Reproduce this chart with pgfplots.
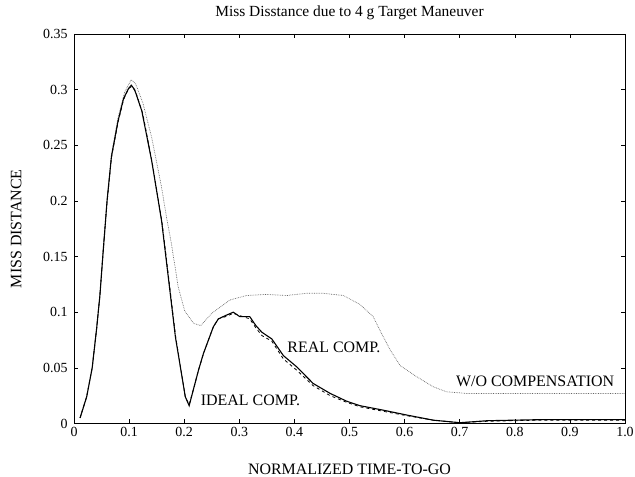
\documentclass[border=0pt]{standalone}
\usepackage{fontspec}
\setmainfont{Liberation Serif}
\usepackage{pgfplots}
\pgfplotsset{compat=1.18}

% miss distance vs normalized time-to-go
\pgfplotstableread{
t      real
0.011  0.005
0.023  0.024
0.033  0.050
0.041  0.085
0.047  0.115
0.053  0.155
0.060  0.200
0.068  0.240
0.080  0.272
0.090  0.292
0.099  0.301
0.104  0.304
0.110  0.300
0.123  0.281
0.141  0.236
0.159  0.182
0.171  0.132
0.184  0.078
0.202  0.024
0.209  0.016
0.218  0.033
0.226  0.048
0.235  0.063
0.253  0.087
0.262  0.094
0.275  0.097
0.289  0.100
0.301  0.096
0.319  0.096
0.330  0.088
0.341  0.082
0.359  0.076
0.380  0.061
0.404  0.051
0.434  0.036
0.465  0.027
0.495  0.020
0.519  0.016
0.561  0.012
0.604  0.0076
0.652  0.003
0.700  0.0007
0.750  0.0025
0.850  0.0035
1.000  0.0035
}\realcomp

\pgfplotstableread{
t      ideal
0.011  0.005
0.023  0.024
0.033  0.050
0.041  0.085
0.047  0.115
0.053  0.155
0.060  0.199
0.068  0.239
0.080  0.271
0.090  0.291
0.099  0.301
0.105  0.303
0.112  0.298
0.125  0.278
0.142  0.234
0.160  0.180
0.172  0.130
0.185  0.076
0.202  0.024
0.209  0.017
0.218  0.033
0.226  0.048
0.235  0.063
0.253  0.087
0.262  0.094
0.275  0.096
0.289  0.099
0.301  0.097
0.319  0.094
0.330  0.086
0.341  0.079
0.359  0.074
0.380  0.058
0.404  0.048
0.434  0.034
0.465  0.025
0.495  0.019
0.519  0.015
0.561  0.011
0.604  0.007
0.652  0.003
0.700  0.0007
0.750  0.002
0.850  0.003
1.000  0.003
}\idealcomp

\pgfplotstableread{
t      nocomp
0.011  0.005
0.023  0.024
0.033  0.050
0.041  0.085
0.047  0.116
0.053  0.157
0.060  0.202
0.068  0.242
0.080  0.275
0.092  0.298
0.104  0.309
0.112  0.305
0.125  0.288
0.141  0.257
0.159  0.212
0.168  0.185
0.177  0.161
0.189  0.123
0.201  0.101
0.217  0.090
0.230  0.088
0.250  0.099
0.283  0.111
0.313  0.115
0.349  0.116
0.386  0.115
0.422  0.117
0.452  0.117
0.489  0.115
0.519  0.107
0.543  0.096
0.558  0.081
0.574  0.066
0.592  0.052
0.622  0.042
0.652  0.033
0.676  0.0285
0.713  0.027
1.000  0.027
}\nocomp

\begin{document}
\begin{tikzpicture}
\path[use as bounding box] (0,0) rectangle (635bp,477bp);
\begin{axis}[
    scale only axis, width=551bp, height=389.5bp,
    at={(74bp,53.5bp)}, anchor=south west,
    xmin=0, xmax=1, ymin=0, ymax=0.35,
    xtick={0,0.1,0.2,0.3,0.4,0.5,0.6,0.7,0.8,0.9,1},
    xticklabels={0,0.1,0.2,0.3,0.4,0.5,0.6,0.7,0.8,0.9,1.0},
    ytick={0,0.05,0.1,0.15,0.2,0.25,0.3,0.35},
    yticklabels={0,0.05,0.1,0.15,0.2,0.25,0.3,0.35},
    tick align=inside, major tick length=4bp,
    tick style={black, line width=0.6bp},
    axis line style={line width=0.8bp},
    ticklabel style={font=\fontsize{14}{16}\selectfont},
    yticklabel style={xshift=-3bp},
    title={Miss Disstance due to 4 g Target Maneuver},
    title style={at={(axis description cs:0.5,1.029)}, anchor=base,
        font=\fontsize{15.5}{18}\selectfont},
    xlabel={NORMALIZED TIME-TO-GO},
    xlabel style={at={(axis description cs:0.5,-0.1297)}, anchor=base,
        font=\fontsize{16}{18}\selectfont},
    ylabel={MISS DISTANCE},
    ylabel style={at={(axis description cs:-0.105,0.5)}, anchor=center,
        font=\fontsize{16}{18}\selectfont},
]
\addplot[black!60, densely dotted, line width=0.7bp] table[x=t, y=nocomp] {\nocomp};
\addplot[black, dashed, line width=0.8bp] table[x=t, y=ideal] {\idealcomp};
\addplot[black, line width=1.1bp] table[x=t, y=real] {\realcomp};

\node[anchor=west, inner sep=0, font=\fontsize{16}{18}\selectfont] at (axis cs:0.387,0.068) {REAL COMP.};
\node[anchor=west, inner sep=0, font=\fontsize{16}{18}\selectfont] at (axis cs:0.230,0.021) {IDEAL COMP.};
\node[anchor=west, inner sep=0, font=\fontsize{16}{18}\selectfont] at (axis cs:0.693,0.0375) {W/O COMPENSATION};
\end{axis}
\end{tikzpicture}
\end{document}
